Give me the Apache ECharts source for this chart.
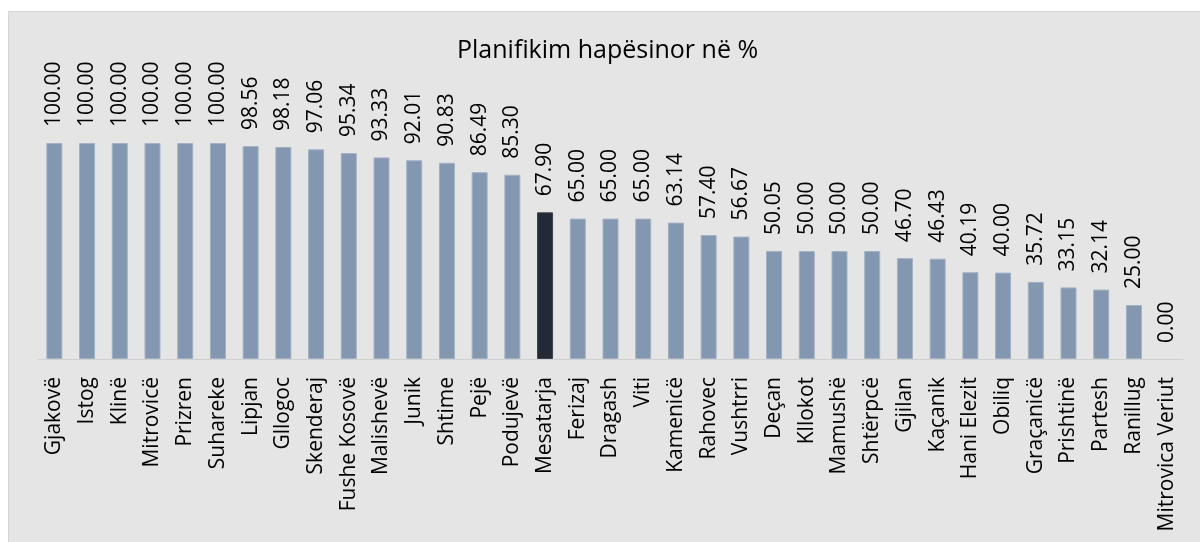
<!DOCTYPE html>
<html>
<head>
<meta charset="utf-8">
<script src="https://cdn.jsdelivr.net/npm/echarts@6/dist/echarts.min.js"></script>
<style>
  html, body { margin: 0; padding: 0; background: #ffffff; }
  #frame {
    position: absolute; left: 8px; top: 11px; width: 1192px; height: 531px;
    background: #e5e5e5; border-left: 1px solid #d4d4d4; border-top: 1px solid #d4d4d4;
    box-sizing: border-box;
  }
  #chart { position: absolute; left: 0; top: 0; width: 1200px; height: 542px; }
</style>
</head>
<body>
<div id="frame"></div>
<div id="chart"></div>
<script>
'use strict';

// municipalities, sorted by share
var municipalities = [
    'Gjakovë', 'Istog', 'Klinë', 'Mitrovicë', 'Prizren', 'Suhareke', 'Lipjan',
    'Gllogoc', 'Skenderaj', 'Fushe Kosovë', 'Malishevë', 'Junik', 'Shtime',
    'Pejë', 'Podujevë', 'Mesatarja', 'Ferizaj', 'Dragash', 'Viti', 'Kamenicë',
    'Rahovec', 'Vushtrri', 'Deçan', 'Kllokot', 'Mamushë', 'Shtërpcë', 'Gjilan',
    'Kaçanik', 'Hani Elezit', 'Obiliq', 'Graçanicë', 'Prishtinë', 'Partesh',
    'Ranillug', 'Mitrovica Veriut'
];

var shares = [
    100.00, 100.00, 100.00, 100.00, 100.00, 100.00, 98.56,
    98.18, 97.06, 95.34, 93.33, 92.01, 90.83,
    86.49, 85.30, 67.90, 65.00, 65.00, 65.00, 63.14,
    57.40, 56.67, 50.05, 50.00, 50.00, 50.00, 46.70,
    46.43, 40.19, 40.00, 35.72, 33.15, 32.14,
    25.00, 0.00
];

var average_name = 'Mesatarja';

var chart = echarts.init(document.getElementById('chart'), null, {renderer: 'canvas'});

var font = '"Open Sans", "DejaVu Sans", sans-serif';

chart.setOption({
    backgroundColor: 'transparent',
    animation: false,
    title: {
        text: 'Planifikim hapësinor në %',
        left: 452,
        top: 33,
        textStyle: {
            fontFamily: font,
            fontSize: 25,
            fontWeight: 'normal',
            color: '#000000'
        }
    },
    grid: {
        left: 38,
        right: 17,
        top: 143,
        bottom: 183
    },
    xAxis: {
        type: 'category',
        data: municipalities,
        axisLine: { lineStyle: { color: '#d0d0d0', width: 1 } },
        axisTick: { show: false },
        axisLabel: {
            rotate: 90,
            interval: 0,
            margin: 18,
            fontFamily: font,
            fontSize: 21,
            color: '#000000'
        }
    },
    yAxis: {
        type: 'value',
        min: 0,
        max: 100,
        show: false,
        splitLine: { show: false }
    },
    series: [{
        type: 'bar',
        barWidth: 16,
        data: shares.map(function (v, i) {
            var is_avg = municipalities[i] === average_name;
            return {
                value: v,
                itemStyle: {
                    color: is_avg ? '#232a36' : '#8497b0',
                    borderColor: is_avg ? '#3a4250' : '#a3b1c4',
                    borderWidth: v > 0 ? 1 : 0
                }
            };
        }),
        label: {
            show: true,
            position: 'top',
            rotate: 90,
            align: 'left',
            verticalAlign: 'middle',
            distance: 16,
            fontFamily: font,
            fontSize: 21,
            color: '#000000',
            formatter: function (p) {
                return p.value.toFixed(2);
            }
        }
    }]
});
</script>
</body>
</html>
